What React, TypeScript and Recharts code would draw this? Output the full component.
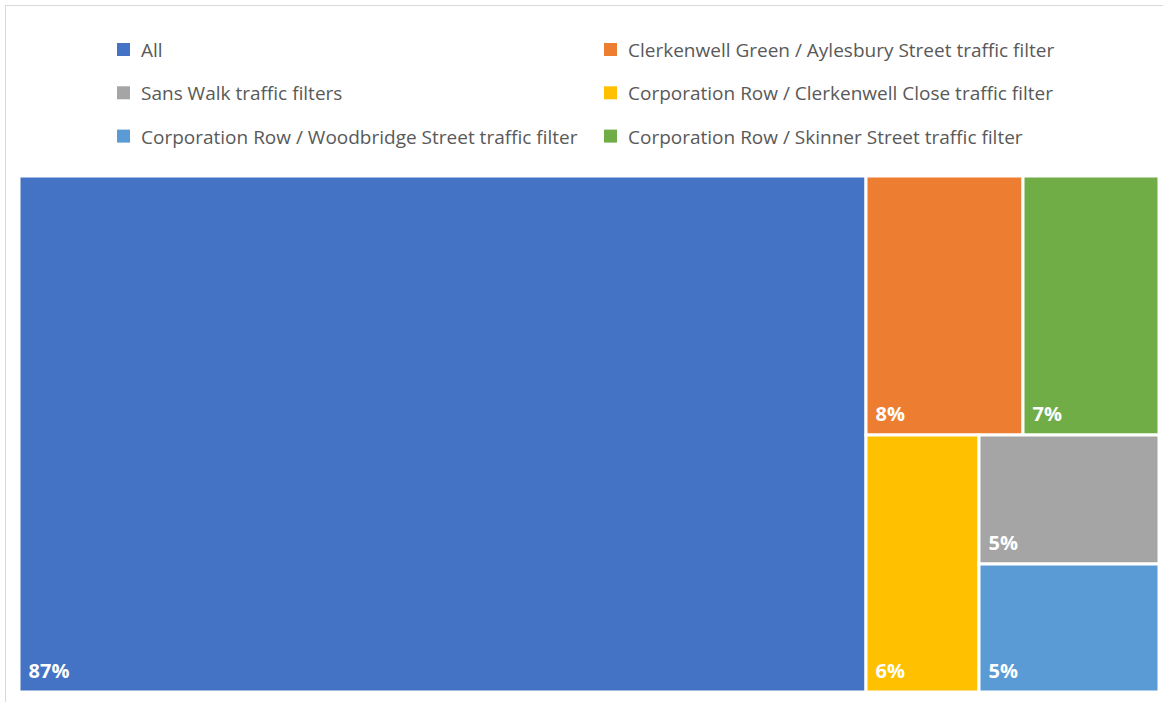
import React from "react";
import { Treemap } from "recharts";

// legend / series order (Excel series order)
const categories = [
  "All",
  "Clerkenwell Green / Aylesbury Street traffic filter",
  "Sans Walk traffic filters",
  "Corporation Row / Clerkenwell Close traffic filter",
  "Corporation Row / Woodbridge Street traffic filter",
  "Corporation Row / Skinner Street traffic filter",
];

const values = [86.9, 8.1, 4.6, 5.8, 4.6, 7.0];

const colors = ["#4472C4", "#ED7D31", "#A5A5A5", "#FFC000", "#5B9BD5", "#70AD47"];

// how the tiles are grouped in the reference (indices into categories)
const tileGroups: any[] = [0, [[1, 5], [3, [2, 4]]]];

function buildNode(g: any): any {
  if (Array.isArray(g)) return { name: "group", children: g.map(buildNode) };
  return { name: categories[g], value: values[g], cat: g };
}

const treeData = tileGroups.map(buildNode);

function Tile(props: any) {
  const { x, y, width, height, children, cat, value } = props;
  if ((children && children.length) || cat === undefined) return <g />;
  return (
    <g>
      <rect x={x} y={y} width={width} height={height} fill={colors[cat]} stroke="#fff" strokeWidth={3} />
      <text
        x={x + 9.5}
        y={y + height - 14.5}
        fill="#fff"
        fontSize={20}
        fontWeight={700}
        fontFamily="'Open Sans', sans-serif"
      >
        {Math.round(value)}%
      </text>
    </g>
  );
}

export default function App() {
  return (
    <div
      style={{
        position: "absolute",
        left: 0,
        top: 0,
        width: 1163,
        height: 702,
        overflow: "hidden",
        background: "#fff",
        fontFamily: "'Open Sans', sans-serif",
      }}
    >
      <div
        style={{
          position: "absolute",
          left: 5,
          top: 5,
          width: 1180,
          height: 720,
          border: "1px solid #d9d9d9",
        }}
      />
      <svg width={1163} height={170} style={{ position: "absolute", left: 0, top: 0 }}>
        {categories.map((c, i) => {
          const col = i % 2;
          const row = Math.floor(i / 2);
          const x = col ? 604 : 117;
          const y = 57 + row * 43.3;
          return (
            <g key={c}>
              <rect x={x} y={y - 14} width={13} height={13} fill={colors[i]} />
              <text x={x + 24} y={y} fill="#595959" fontSize={19} fontFamily="'Open Sans', sans-serif">
                {c}
              </text>
            </g>
          );
        })}
      </svg>
      <div style={{ position: "absolute", left: 19, top: 176 }}>
        <Treemap
          width={1140}
          height={516}
          data={treeData}
          dataKey="value"
          aspectRatio={1}
          isAnimationActive={false}
          content={<Tile />}
        />
      </div>
    </div>
  );
}
